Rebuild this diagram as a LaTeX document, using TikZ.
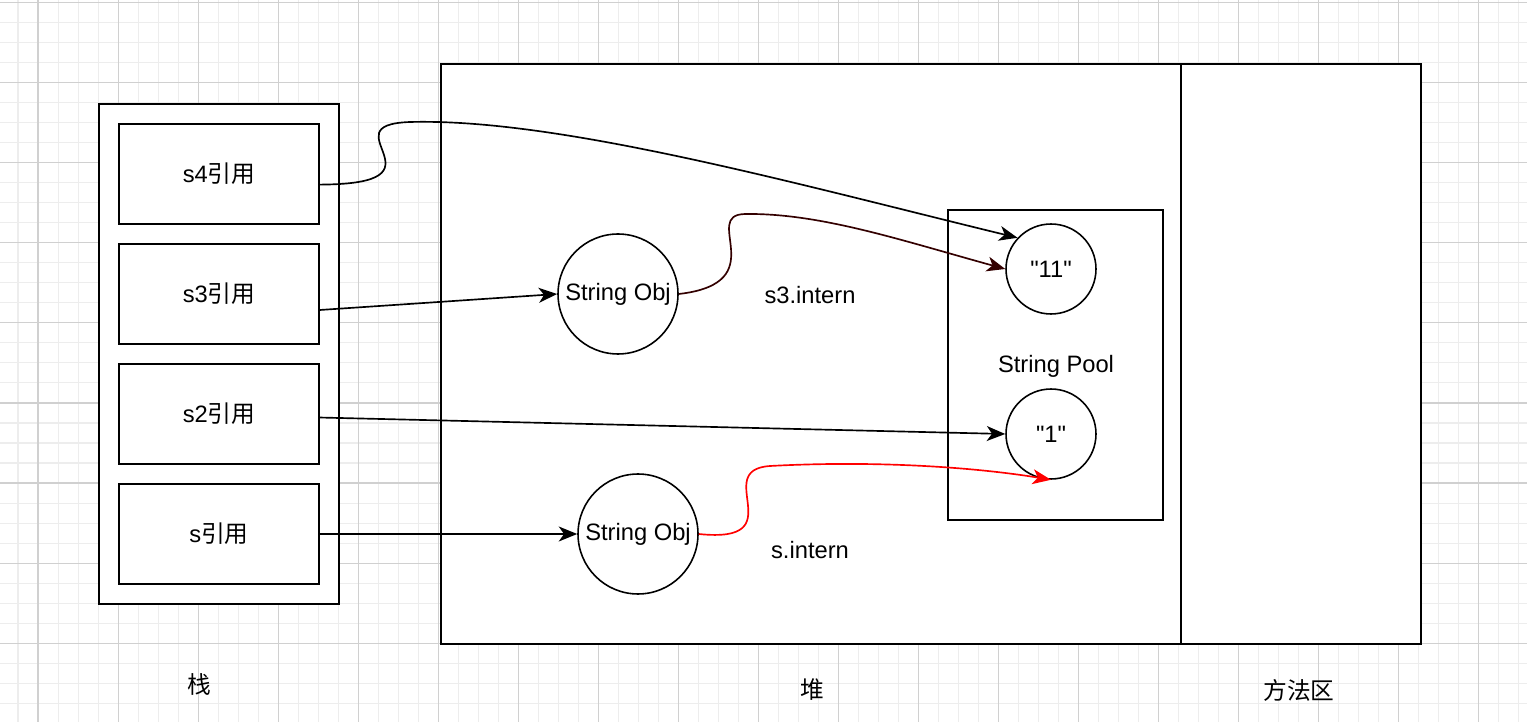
\documentclass[tikz,border=0pt]{standalone}
\usepackage{fontspec}
\setmainfont{Liberation Sans}[Ligatures=TeXOff]
\newfontfamily\cjk{Noto Sans CJK SC}
\usetikzlibrary{arrows.meta}
\definecolor{gridminor}{HTML}{EDEDED}
\definecolor{gridmajor}{HTML}{D0D0D0}
\definecolor{darkred}{HTML}{330000}
\begin{document}
\begin{tikzpicture}[x=0.02cm,y=-0.02cm,every node/.style={font=\fontsize{13.5}{16}\selectfont},
  area/.style={draw,line width=1.1pt,fill=white,inner sep=0pt},
  ref/.style={area,minimum width=4cm,minimum height=2cm},
  obj/.style={circle,draw,line width=0.9pt,fill=white,inner sep=0pt},
  link/.style={line width=0.95pt,-{Stealth[length=10.5pt,width=8.5pt,inset=3pt]}}]
\useasboundingbox (0,0) rectangle (1527,722);
% grid
\foreach \x in {18,38,...,1518} {\draw[gridminor,line width=0.57pt] (\x,0) -- (\x,722);}
\foreach \y in {3,23,...,703} {\draw[gridminor,line width=0.57pt] (0,\y) -- (1527,\y);}
\foreach \x in {38,118,...,1478} {\draw[gridmajor,line width=0.57pt] (\x,0) -- (\x,722);}
\foreach \y in {3,83,...,643} {\draw[gridmajor,line width=0.57pt] (0,\y) -- (1527,\y);}
% areas
\node[area,minimum width=4.8cm,minimum height=10cm] (stack) at (219,354) {};
\node[area,minimum width=14.8cm,minimum height=11.6cm] (heap) at (811,354) {};
\node[area,minimum width=4.8cm,minimum height=11.6cm] (method) at (1301,354) {};
\node[area,minimum width=4.3cm,minimum height=6.2cm] (pool) at (1055.5,365) {};
\node (poollbl) at (1056,366) {String Pool};
% references
\node[ref] (s4) at (219,174) {s4{\cjk 引用}};
\node[ref] (s3) at (219,294) {s3{\cjk 引用}};
\node[ref] (s2) at (219,414) {s2{\cjk 引用}};
\node[ref] (s1) at (219,534) {s{\cjk 引用}};
% objects
\node[obj,minimum size=2.4cm] (so1) at (618,294) {String Obj};
\node[obj,minimum size=2.4cm] (so2) at (638,534) {String Obj};
\node[obj,minimum size=1.8cm] (p11) at (1051,269) {"11"};
\node[obj,minimum size=1.8cm] (p1) at (1051,434) {"1"};
\node (l3) at (810,295) {s3.intern};
\node (l1) at (810,550) {s.intern};
% area labels
\node (lstack) at (199,684) {\cjk 栈};
\node (lheap) at (812,690) {\cjk 堆};
\node (lmethod) at (1299,690) {\cjk 方法区};
% links
\draw[link] (s3.-9) -- (so1.west);
\draw[link] (s2.-2) -- (p1.west);
\draw[link] (s1.east) -- (so2.west);
\draw[link] (s4.-6) .. controls (455,184) and (325,125) .. (410,122) .. controls (560,118) and (800,185) .. (p11.137);
\draw[link,darkred] (so1.east) .. controls (775,283) and (700,215) .. (745,214) .. controls (820,213) and (900,240) .. (p11.west);
\draw[link,red] (so2.east) .. controls (795,544) and (710,470) .. (770,466) .. controls (880,460) and (980,468) .. (p1.south);
\end{tikzpicture}
\end{document}
